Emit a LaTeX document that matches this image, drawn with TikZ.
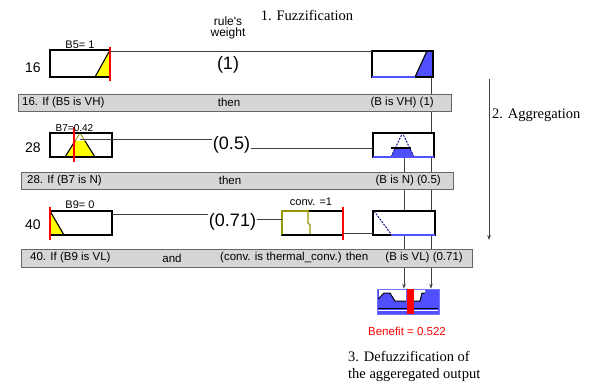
\documentclass[tikz,border=0pt]{standalone}
\usepackage{fontspec}
\setmainfont{Liberation Sans}
\newfontfamily\titlefont{Liberation Serif}
\usetikzlibrary{arrows.meta,backgrounds}
\definecolor{fzblue}{RGB}{80,80,255}
\definecolor{fzyellow}{RGB}{255,255,0}
\definecolor{fzgray}{RGB}{214,214,214}
\definecolor{fzolive}{RGB}{150,150,0}
\definecolor{fzred}{RGB}{255,0,0}
\definecolor{fznavy}{RGB}{20,20,140}
\begin{document}
\begin{tikzpicture}[x=1pt,y=-1pt,
  mfbox/.style={fill=white, draw=none, inner sep=0pt, outer sep=0pt},
  boxline/.style={draw=black, line width=1.3pt},
  thickbot/.style={line width=2.6pt},
  conn/.style={draw=black!75, line width=0.8pt},
  barbox/.style={fill=fzgray, draw=black!60, line width=0.9pt, inner sep=0pt},
  bartext/.style={font=\fontsize{11.5}{12}\selectfont, inner sep=0pt},
  lbl/.style={font=\fontsize{11}{12}\selectfont, inner sep=0pt},
  num/.style={font=\fontsize{14}{15}\selectfont, inner sep=0pt},
  wt/.style={font=\fontsize{18}{20}\selectfont, inner sep=0.5pt},
  captext/.style={font=\titlefont\fontsize{14.5}{17}\selectfont, inner sep=0pt},
  redmark/.style={draw=fzred, line width=1.5pt},
  ramp/.style={draw=black, line width=1.1pt},
  bluedash/.style={draw=fznavy, line width=1pt, dash pattern=on 2pt off 1.2pt},
  tip/.style={-{Stealth[length=5pt,width=3.5pt]}}
]
\useasboundingbox (0,0) rectangle (589,385);

% ---------- boxes ----------
\node[mfbox, minimum width=60pt, minimum height=27pt] (b1) at (80,63.5) {};
\node[mfbox, minimum width=61pt, minimum height=26pt] (b2) at (402.5,64) {};
\node[mfbox, minimum width=62pt, minimum height=24pt] (b3) at (81,145) {};
\node[mfbox, minimum width=61pt, minimum height=24pt] (b4) at (403.5,145) {};
\node[mfbox, minimum width=62pt, minimum height=24pt] (b5) at (81,223) {};
\node[mfbox, minimum width=61pt, minimum height=24pt] (b6) at (312.5,223) {};
\node[mfbox, minimum width=62pt, minimum height=24pt] (b7) at (404,223) {};
\node[fill=fzblue, draw=fzblue!80!white, line width=0.6pt, minimum width=62pt, minimum height=25pt, inner sep=0pt] (agg) at (408,301.5) {};

% ---------- rule bars ----------
\node[barbox, minimum width=433pt, minimum height=17pt] (bar1) at (234.5,102.5) {};
\node[barbox, minimum width=432pt, minimum height=17pt] (bar2) at (237,180.5) {};
\node[barbox, minimum width=451pt, minimum height=18pt] (bar3) at (246.5,258) {};

\node[bartext, anchor=west] (t1a) at (22,102.5) {16. If (B5 is VH)};
\node[bartext] (t1b) at (229,102.5) {then};
\node[bartext, anchor=east] (t1c) at (434,102.5) {(B is VH) (1)};
\node[bartext, anchor=west] (t2a) at (27,180.5) {28. If (B7 is N)};
\node[bartext] (t2b) at (230,180.5) {then};
\node[bartext, anchor=east] (t2c) at (441,180.5) {(B is N) (0.5)};
\node[bartext, anchor=west] (t3a) at (30,258) {40. If (B9 is VL)};
\node[bartext] (t3b) at (172,258) {and};
\node[bartext, anchor=west] (t3c) at (220,258) {(conv. is thermal\_conv.) then};
\node[bartext, anchor=east] (t3d) at (463,258) {(B is VL) (0.71)};

% ---------- vertical aggregation connectors (behind) ----------
\coordinate (v1) at ([xshift=-2pt]b2.south east);
\coordinate (v2) at ([xshift=0.5pt]b4.south);
\begin{scope}[on background layer]
  \draw[conn, tip] (v1) -- (v1 |- agg.north);
  \draw[conn, tip] (v2) -- (v2 |- agg.north);
\end{scope}

% ---------- box 1 ----------
\fill[fzyellow] (95,77) -- (110,50) -- (110,77) -- cycle;
\draw[ramp] (95,77) -- (110,50);
\draw[boxline] (b1.north west) rectangle (b1.south east);
\draw[thickbot] (b1.south west) -- (b1.south east);
\draw[redmark] (110,47) -- (110,81);

% ---------- box 2 ----------
\fill[fzblue] (415,77) -- (427,51) -- (433,51) -- (433,77) -- cycle;
\draw[ramp] (415,77) -- (427,51);
\draw[boxline] (b2.north west) rectangle (b2.south east);
\draw[thickbot, fzblue] (b2.south west) -- (415,77);
\draw[thickbot] (415,77) -- (b2.south east);

% ---------- box 3 ----------
\fill[fzyellow] (65,157) -- (75,141) -- (85,141) -- (95,157) -- cycle;
\draw[ramp] (65,157) -- (75,141);
\draw[ramp] (85,141) -- (95,157);
\draw[fzolive, line width=0.8pt] (75,141) -- (80,133) -- (85,141);
\draw[boxline] (b3.north west) rectangle (b3.south east);
\draw[thickbot] (b3.south west) -- (b3.south east);
\draw[redmark] (74,127) -- (74,162);

% ---------- box 4 ----------
\fill[fzblue] (391,157) -- (395,148) -- (410,148) -- (414,157) -- cycle;
\draw[bluedash] (391,157) -- (402.5,133) -- (414,157);
\draw[boxline] (b4.north west) rectangle (b4.south east);
\draw[thickbot, fzblue] (b4.south west) -- (b4.south east);
\draw[black, line width=1.4pt] (391,148) -- (411,148);

% ---------- box 5 ----------
\fill[fzyellow] (50,211) -- (64,235) -- (50,235) -- cycle;
\draw[ramp] (50,211) -- (64,235);
\draw[boxline] (b5.north west) rectangle (b5.south east);
\draw[thickbot] (b5.south west) -- (b5.south east);
\draw[redmark] (50,207) -- (50,240);

% ---------- box 6 ----------
\draw[boxline] (b6.north west) rectangle (b6.south east);
\draw[fzolive, line width=1.3pt] (b6.south west) -- (b6.north west) -- (309,211);
\draw[fzolive, line width=1.1pt] (308,212) -- (308,223) -- (310,225) -- (310,234);
\draw[thickbot] (b6.south west) -- (b6.south east);
\draw[redmark] (343,207) -- (343,240);

% ---------- box 7 ----------
\draw[bluedash] (374,211) -- (391,234);
\draw[boxline] (b7.north west) rectangle (b7.south east);
\draw[thickbot] (b7.south west) -- (391,235);
\draw[thickbot, fzblue] (391,235) -- (b7.south east);

% ---------- aggregated output ----------
\fill[white] (379,290) -- (379,298) -- (384,293) -- (390,293) -- (393,298) -- (395,301) -- (406,301) -- (406,290) -- cycle;
\fill[white] (414,290) -- (414,301) -- (420,301) -- (422,293) -- (425,293) -- (425,290) -- cycle;
\draw[black, line width=1pt] (378,299) -- (384,293) -- (390,293) -- (393,298) -- (395,301) -- (406,301);
\draw[black, line width=1pt] (414,301) -- (420,301) -- (422,293) -- (425,293);
\draw[black, line width=1pt] (378,308) -- (438,308);
\draw[white, line width=1.2pt] (378,310.5) -- (438,310.5);
\fill[fzred] (406.5,289) rectangle (414,313.5);

% ---------- weights ----------
\node[wt] (w1) at (228,65) {(1)};
\node[wt] (w2) at (231.5,144.5) {(0.5)};
\node[wt] (w3) at (232.5,222) {(0.71)};

% ---------- connectors ----------
\draw[conn] ([yshift=-1pt]b1.north east) -- (b2.north west);
\coordinate (r2s) at (80,139);
\draw[conn] (r2s) -- (r2s -| w2.west);
\coordinate (b4in) at ([yshift=-3pt]b4.west);
\draw[conn] (w2.east |- b4in) -- (b4in);
\coordinate (b5out) at ([yshift=-3pt]b5.north east);
\draw[conn] (b5out) -- (w3.west |- b5out);
\coordinate (b6in) at ([yshift=4pt]b6.west);
\draw[conn] (w3.east |- b6in) -- (b6in);
\coordinate (b6out) at ([yshift=2pt]b6.south east);
\draw[conn] (b6out) -- (b7.west |- b6out);

% aggregation arrow
\coordinate (aggtop) at (489,79);
\coordinate (aggbot) at (489,240);
\draw[conn, tip] (aggtop) -- (aggbot);

% ---------- labels ----------
\node[num] (n16) at (33,68) {16};
\node[num] (n28) at (33,148) {28};
\node[num] (n40) at (33,225) {40};
\node[lbl] (l1) at (80,45) {B5= 1};
\node[lbl, font=\fontsize{10}{11}\selectfont] (l2) at (74.5,128) {B7=0.42};
\node[lbl] (l3) at (80,205) {B9= 0};
\node[lbl] (l4) at (311,202) {conv. =1};
\node[font=\fontsize{12}{11.5}\selectfont, align=center, inner sep=0pt] (rw) at (228,28) {rule\textquotesingle s\\weight};
\node[captext] (fuzz) at (307,15) {1. Fuzzification};
\node[captext, anchor=west] (aggr) at (492,115) {2. Aggregation};
\node[font=\fontsize{11.5}{12}\selectfont, text=fzred, inner sep=0pt] (ben) at (407,331) {Benefit = 0.522};
\node[captext, anchor=north west, align=left] (defz) at (348,351) {3. Defuzzification of\\the aggeregated output};
\end{tikzpicture}
\end{document}
